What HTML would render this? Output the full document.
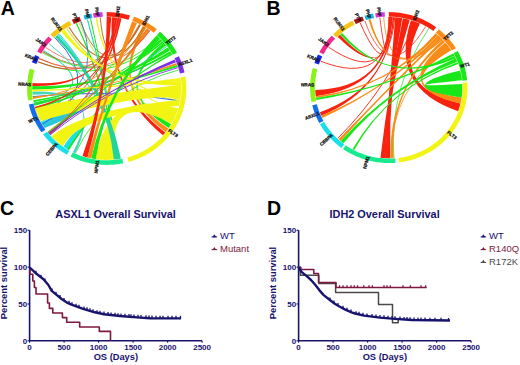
<!DOCTYPE html>
<html><head><meta charset="utf-8"><style>
html,body{margin:0;padding:0;background:#fff;width:520px;height:365px;overflow:hidden}
svg{display:block;font-family:"Liberation Sans",sans-serif}
</style></head><body>
<svg width="520" height="365" viewBox="0 0 520 365">
<rect width="520" height="365" fill="#fff"/>
<text x="0.8" y="14.6" font-size="19.5" font-weight="bold" fill="#000">A</text>
<text x="266.6" y="14.8" font-size="19.5" font-weight="bold" fill="#000">B</text>
<text x="0" y="214.8" font-size="19.5" font-weight="bold" fill="#000">C</text>
<text x="267.1" y="214.8" font-size="19.5" font-weight="bold" fill="#000">D</text>
<path d="M171.15,124.22 L169.99,126.09 L168.76,127.93 Q106.7,88.5 163.71,42.58 L164.95,44.03 L166.14,45.51 Q106.7,88.5 171.15,124.22Z" fill="#18e818"/>
<path d="M168.4,128.45 L167.1,130.24 L165.75,131.99 Q106.7,88.5 142.78,26.02 L144.47,26.95 L146.14,27.92 Q106.7,88.5 168.4,128.45Z" fill="#f98c16"/>
<path d="M165.35,132.48 L164.13,133.94 L162.87,135.36 Q106.7,88.5 111.89,17.24 L113.51,17.37 L115.13,17.53 Q106.7,88.5 165.35,132.48Z" fill="#f8220e"/>
<path d="M41.29,122.59 Q62,112 90,100 L90,107 Q65,120 44.64,127.93Z" fill="#2cc6dc"/>
<path d="M63.48,146.66 Q70,136 84,122 L84,128 Q74,141 68.93,150.05Z" fill="#18e0ea"/>
<path d="M54.63,37.46 Q106.7,88.5 42.25,124.22" fill="none" stroke="#2a6ae6" stroke-width="1.0" stroke-opacity="1"/>
<path d="M58.17,34.34 Q106.7,88.5 117.06,159.24" fill="none" stroke="#18e0ea" stroke-width="1.1" stroke-opacity="1"/>
<path d="M59.16,33.54 Q106.7,88.5 118.34,159.05" fill="none" stroke="#22d8b0" stroke-width="0.9" stroke-opacity="1"/>
<path d="M66.71,28.25 Q106.7,88.5 180,100.9" fill="none" stroke="#c6e83a" stroke-width="1.2" stroke-opacity="1"/>
<path d="M68.93,26.95 Q106.7,88.5 145.03,27.27" fill="none" stroke="#c0702a" stroke-width="1.2" stroke-opacity="1"/>
<path d="M43.58,50.65 Q106.7,88.5 33.9,103.35" fill="none" stroke="#22d8b0" stroke-width="1.1" stroke-opacity="1"/>
<path d="M45.73,47.53 Q106.7,88.5 118.34,17.95" fill="none" stroke="#e0604a" stroke-width="0.8" stroke-opacity="1"/>
<path d="M48.86,43.55 Q106.7,88.5 115.77,159.4" fill="none" stroke="#46d6c0" stroke-width="1.0" stroke-opacity="1"/>
<path d="M37.69,61.74 Q106.7,88.5 161.13,39.78" fill="none" stroke="#18e818" stroke-width="0.9" stroke-opacity="1"/>
<path d="M38.98,58.88 Q106.7,88.5 139.33,24.3" fill="none" stroke="#e8603a" stroke-width="0.7" stroke-opacity="1"/>
<path d="M76.43,23.24 Q106.7,88.5 117.06,159.24" fill="none" stroke="#18e818" stroke-width="1.2" stroke-opacity="1"/>
<path d="M78.82,22.27 Q106.7,88.5 173.59,119.81" fill="none" stroke="#c6e83a" stroke-width="0.9" stroke-opacity="1"/>
<path d="M80.39,21.68 Q106.7,88.5 140.49,24.85" fill="none" stroke="#c0702a" stroke-width="0.9" stroke-opacity="1"/>
<path d="M87.44,19.5 Q106.7,88.5 118.34,159.05" fill="none" stroke="#22d8b0" stroke-width="1.1" stroke-opacity="1"/>
<path d="M90.59,18.76 Q106.7,88.5 118.98,158.95" fill="none" stroke="#18e818" stroke-width="1.0" stroke-opacity="1"/>
<path d="M96.34,17.76 Q106.7,88.5 177.48,110.57" fill="none" stroke="#f2f514" stroke-width="1.0" stroke-opacity="1"/>
<path d="M100.21,17.34 Q106.7,88.5 143.91,26.64" fill="none" stroke="#c0702a" stroke-width="1.0" stroke-opacity="1"/>
<path d="M117.06,17.76 Q106.7,88.5 37.69,61.74" fill="none" stroke="#f8220e" stroke-width="0.8" stroke-opacity="1"/>
<path d="M118.34,17.95 Q106.7,88.5 38.71,117.55" fill="none" stroke="#f8220e" stroke-width="0.9" stroke-opacity="1"/>
<path d="M145.03,27.27 Q106.7,88.5 33,98.44" fill="none" stroke="#f98c16" stroke-width="0.9" stroke-opacity="1"/>
<path d="M158.4,37.11 Q106.7,88.5 42.25,52.78" fill="none" stroke="#18e818" stroke-width="0.8" stroke-opacity="1"/>
<path d="M166.91,46.51 Q106.7,88.5 40.99,122.04" fill="none" stroke="#22d8b0" stroke-width="0.9" stroke-opacity="1"/>
<path d="M178.59,70.01 Q106.7,88.5 75.25,153.24" fill="none" stroke="#18e818" stroke-width="0.8" stroke-opacity="1"/>
<path d="M32.75,96.59 Q106.7,88.5 180,100.9" fill="none" stroke="#2a6ae6" stroke-width="1.0" stroke-opacity="1"/>
<path d="M34.18,104.57 Q106.7,88.5 171.15,52.78" fill="none" stroke="#2a6ae6" stroke-width="0.9" stroke-opacity="1"/>
<path d="M36.76,112.93 Q106.7,88.5 81.24,21.37" fill="none" stroke="#146eeb" stroke-width="0.8" stroke-opacity="1"/>
<path d="M32.32,86.01 L32.39,84.45 L32.5,82.9 Q106.7,88.5 115.13,17.53 L117.06,17.76 Q106.7,88.5 32.32,86.01Z" fill="#f8220e"/>
<path d="M32.29,89.75 L32.28,87.88 L32.32,86.01 Q106.7,88.5 168.4,48.55 L169.12,49.59 L169.82,50.65 Q106.7,88.5 32.29,89.75Z" fill="#18e818"/>
<path d="M32.56,94.73 L32.43,93.17 L32.34,91.62 Q106.7,88.5 75.25,153.24 L74.07,152.7 L72.91,152.15 Q106.7,88.5 32.56,94.73Z" fill="#46d6c0"/>
<path d="M176.18,62.9 L176.99,65.01 Q106.7,88.5 33,98.44 L32.78,96.83 Q106.7,88.5 176.18,62.9Z" fill="#f98c16"/>
<path d="M176.99,65.01 L177.68,67.02 Q106.7,88.5 34.04,103.96 L33.77,102.74 Q106.7,88.5 176.99,65.01Z" fill="#18e818"/>
<path d="M167.67,47.53 L168.4,48.55 L169.12,49.59 Q106.7,88.5 35.53,109.39 L35.16,108.19 L34.81,106.99 Q106.7,88.5 167.67,47.53Z" fill="#18e818"/>
<path d="M171.48,53.32 L172.29,54.74 Q106.7,88.5 68.93,150.05 L67.26,149.08 Q106.7,88.5 171.48,53.32Z" fill="#18e818"/>
<path d="M160.69,39.33 L162.01,40.7 Q106.7,88.5 49.02,133.65 L48.05,132.48 Q106.7,88.5 160.69,39.33Z" fill="#18e818"/>
<path d="M162.44,41.17 L163.71,42.58 Q106.7,88.5 34.48,105.78 L34.12,104.33 Q106.7,88.5 162.44,41.17Z" fill="#18e818"/>
<path d="M170.16,51.18 L170.83,52.24 L171.48,53.32 Q106.7,88.5 33.64,102.13 L33.29,100.29 Q106.7,88.5 170.16,51.18Z" fill="#18e818"/>
<path d="M139.33,24.3 L140.72,24.97 Q106.7,88.5 42.57,52.24 L43.24,51.18 Q106.7,88.5 139.33,24.3Z" fill="#c0702a"/>
<path d="M147.24,28.59 L148.32,29.28 L149.39,29.98 Q106.7,88.5 48.21,132.68 L47.42,131.69 Q106.7,88.5 147.24,28.59Z" fill="#f98c16"/>
<path d="M149.39,29.98 L150.45,30.71 Q106.7,88.5 38.98,58.88 L39.41,57.97 Q106.7,88.5 149.39,29.98Z" fill="#e8603a"/>
<path d="M117.7,17.85 L119.62,18.15 Q106.7,88.5 35.23,108.43 L34.81,106.99 Q106.7,88.5 117.7,17.85Z" fill="#f8220e"/>
<path d="M119.62,18.15 L121.54,18.5 Q106.7,88.5 50.11,134.89 L49.27,133.94 Q106.7,88.5 119.62,18.15Z" fill="#f8220e"/>
<path d="M178.24,108.19 L177.51,110.49 L176.7,112.76 L175.81,115.01 L174.84,117.23 L173.8,119.41 L172.67,121.56 L171.48,123.68 Q106.7,88.5 114.48,159.54 L112.13,159.74 L109.78,159.87 L107.43,159.93 L105.08,159.92 L102.72,159.83 L100.38,159.68 L98.03,159.45 L95.7,159.15 Q106.7,88.5 178.24,108.19Z" fill="#f2f514"/>
<path d="M120.9,158.62 L118.56,159.02 L116.2,159.35 L113.83,159.61 Q106.7,88.5 55.19,36.94 L56.32,35.92 L57.48,34.92 Q106.7,88.5 120.9,158.62Z" fill="#20d49c"/>
<path d="M180.31,77.94 L180.53,79.49 L180.72,81.03 Q106.7,88.5 32.34,91.62 L32.29,89.75 Q106.7,88.5 180.31,77.94Z" fill="#f2f514"/>
<path d="M180.72,81.03 L180.92,83.21 L181.06,85.38 Q106.7,88.5 61.39,31.83 L62.95,30.71 L64.54,29.63 Q106.7,88.5 180.72,81.03Z" fill="#f2f514"/>
<path d="M180.57,97.21 L180.38,98.57 L180.17,99.92 Q106.7,88.5 95.7,17.85 L96.99,17.68 Q106.7,88.5 180.57,97.21Z" fill="#f2f514"/>
<path d="M181.02,84.76 L181.11,86.84 L181.12,88.92 L181.08,90.99 L180.97,93.07 L180.8,95.14 L180.57,97.21 Q134.2,94.5 40.39,120.93 L39.34,118.88 L38.36,116.79 L37.45,114.68 L36.62,112.54 L35.85,110.38 L35.16,108.19 Q76.6,97.1 181.02,84.76Z" fill="#f2f514"/>
<path d="M180.21,99.67 L179.84,101.72 L179.41,103.76 L178.92,105.78 Q78.3,114.8 62.95,146.29 L61.17,145.01 L59.43,143.68 L57.73,142.29 L56.08,140.86 L54.47,139.39 L52.91,137.87 L51.39,136.3 Q83.9,109.2 180.21,99.67Z" fill="#f2f514"/>
<path d="M119.62,18.15 Q106.7,88.5 48.86,133.45" fill="none" stroke="#e04030" stroke-width="0.8" stroke-opacity="1"/>
<path d="M147.24,28.59 Q106.7,88.5 48.45,132.97" fill="none" stroke="#c0702a" stroke-width="0.9" stroke-opacity="1"/>
<path d="M162.01,40.7 Q106.7,88.5 48.05,132.48" fill="none" stroke="#18e818" stroke-width="0.9" stroke-opacity="1"/>
<path d="M177.87,67.61 Q106.7,88.5 50.11,134.89" fill="none" stroke="#7a30e6" stroke-width="0.9" stroke-opacity="1"/>
<path d="M95.7,159.15 L93.46,158.79 L91.23,158.37 Q106.7,88.5 156.5,35.41 L157.77,36.54 L159.02,37.7 L160.24,38.88 Q106.7,88.5 95.7,159.15Z" fill="#18e818"/>
<path d="M91.23,158.37 L89.33,157.96 L87.44,157.5 Q106.7,88.5 132.16,21.37 L133.78,21.96 L135.38,22.58 L136.97,23.24 Q106.7,88.5 91.23,158.37Z" fill="#f98c16"/>
<path d="M87.44,157.5 L85.77,157.05 L84.11,156.57 L82.47,156.04 Q106.7,88.5 106.7,17.07 L108.97,17.1 L111.24,17.2 Q106.7,88.5 87.44,157.5Z" fill="#f8220e"/>
<path d="M174.69,59.45 L175.34,60.88 L175.95,62.32 Q106.7,88.5 49.27,133.94 L48.45,132.97 Q106.7,88.5 174.69,59.45Z" fill="#7a30e6"/>
<path d="M106.7,12.1 L109.32,12.14 L111.94,12.27 L114.56,12.47 L117.17,12.76 L119.76,13.14 L122.34,13.59 L124.91,14.13 L127.45,14.74 L129.97,15.44 L128.58,19.82 L126.21,19.17 L123.81,18.59 L121.4,18.08 L118.98,17.66 L116.54,17.31 L114.09,17.03 L111.63,16.84 L109.17,16.72 L106.7,16.68Z" fill="#f8220e"/>
<path d="M133.92,16.71 L136.39,17.61 L138.82,18.6 L141.22,19.66 L143.58,20.79 L145.9,22 L148.17,23.29 L150.4,24.64 L152.58,26.07 L154.72,27.56 L156.79,29.13 L153.79,32.69 L151.83,31.22 L149.83,29.82 L147.78,28.48 L145.68,27.2 L143.55,25.99 L141.37,24.86 L139.15,23.79 L136.89,22.79 L134.61,21.87 L132.29,21.02Z" fill="#f98c16"/>
<path d="M159.96,31.72 L161.81,33.37 L163.61,35.08 L165.34,36.84 L167.02,38.65 L168.64,40.51 L170.2,42.42 L171.69,44.38 L173.11,46.38 L174.47,48.43 L175.76,50.51 L176.98,52.63 L172.77,54.78 L171.62,52.79 L170.4,50.83 L169.13,48.91 L167.79,47.03 L166.39,45.19 L164.92,43.39 L163.4,41.64 L161.83,39.94 L160.19,38.29 L158.51,36.68 L156.77,35.13Z" fill="#18e818"/>
<path d="M178.84,56.21 L179.89,58.47 L180.87,60.77 L181.77,63.09 L182.59,65.44 L183.32,67.81 L183.98,70.2 L184.56,72.62 L179.89,73.57 L179.35,71.3 L178.73,69.05 L178.03,66.82 L177.26,64.61 L176.42,62.43 L175.5,60.27 L174.51,58.15Z" fill="#7a30e6"/>
<path d="M185.32,76.55 L185.7,79.16 L185.99,81.78 L186.19,84.41 L186.29,87.04 L186.29,89.67 L186.2,92.31 L186.02,94.94 L185.74,97.56 L185.37,100.17 L184.9,102.77 L184.34,105.35 L183.69,107.91 L182.95,110.44 L182.11,112.95 L181.19,115.43 L180.18,117.88 L179.08,120.3 L177.89,122.67 L176.62,125.01 L175.27,127.3 L173.83,129.55 L172.32,131.75 L170.73,133.89 L169.06,135.99 L167.31,138.02 L165.5,140 L163.61,141.91 L161.66,143.77 L159.64,145.55 L157.56,147.27 L155.42,148.92 L153.22,150.49 L150.96,152 L148.66,153.43 L146.3,154.78 L143.89,156.05 L141.45,157.24 L138.96,158.35 L136.43,159.37 L133.86,160.31 L131.27,161.17 L128.64,161.94 L127.32,157.53 L129.79,156.81 L132.23,156.01 L134.64,155.12 L137.02,154.16 L139.36,153.11 L141.66,151.99 L143.92,150.8 L146.14,149.53 L148.31,148.19 L150.43,146.78 L152.5,145.29 L154.51,143.74 L156.47,142.13 L158.36,140.45 L160.2,138.71 L161.97,136.91 L163.68,135.05 L165.32,133.14 L166.88,131.17 L168.38,129.15 L169.81,127.09 L171.15,124.98 L172.43,122.82 L173.62,120.62 L174.74,118.39 L175.77,116.12 L176.72,113.82 L177.59,111.49 L178.37,109.13 L179.07,106.74 L179.68,104.34 L180.21,101.91 L180.65,99.47 L181,97.02 L181.26,94.55 L181.43,92.08 L181.52,89.6 L181.51,87.13 L181.42,84.65 L181.23,82.18 L180.96,79.72 L180.6,77.27Z" fill="#f2f514"/>
<path d="M123.25,163.23 L120.59,163.73 L117.92,164.14 L115.23,164.46 L112.53,164.69 L109.83,164.84 L107.12,164.9 L104.41,164.87 L101.7,164.75 L99,164.54 L96.31,164.25 L93.63,163.86 L90.97,163.39 L88.32,162.84 L85.7,162.19 L83.1,161.46 L80.52,160.65 L77.98,159.75 L75.47,158.77 L73,157.71 L70.56,156.57 L72.73,152.49 L75.02,153.56 L77.34,154.56 L79.7,155.48 L82.09,156.32 L84.51,157.09 L86.96,157.77 L89.42,158.38 L91.91,158.9 L94.41,159.34 L96.93,159.7 L99.46,159.98 L102,160.17 L104.55,160.29 L107.09,160.32 L109.64,160.26 L112.18,160.12 L114.72,159.9 L117.24,159.6 L119.76,159.21 L122.26,158.75Z" fill="#18ea8e"/>
<path d="M66.9,154.66 L64.62,153.35 L62.38,151.96 L60.19,150.5 L58.06,148.98 L55.98,147.38 L53.96,145.72 L51.99,144 L50.09,142.21 L48.25,140.36 L46.47,138.45 L44.77,136.49 L43.13,134.48 L46.94,131.72 L48.48,133.61 L50.09,135.46 L51.76,137.25 L53.48,138.99 L55.27,140.67 L57.12,142.29 L59.02,143.85 L60.98,145.35 L62.98,146.78 L65.04,148.15 L67.14,149.46 L69.29,150.69Z" fill="#18e0ea"/>
<path d="M41.5,132.32 L40,130.2 L38.59,128.04 L37.25,125.83 L35.99,123.58 L34.8,121.29 L33.7,118.96 L32.68,116.6 L31.74,114.21 L30.89,111.79 L30.12,109.34 L29.44,106.87 L28.84,104.38 L33.51,103.43 L34.07,105.77 L34.71,108.09 L35.44,110.39 L36.24,112.67 L37.12,114.92 L38.08,117.14 L39.12,119.32 L40.23,121.48 L41.42,123.59 L42.68,125.67 L44.01,127.7 L45.41,129.69Z" fill="#146eeb"/>
<path d="M28.08,100.45 L27.72,98.01 L27.44,95.57 L27.25,93.11 L27.13,90.65 L27.1,88.19 L27.15,85.73 L27.29,83.27 L27.5,80.82 L27.8,78.38 L28.18,75.94 L28.65,73.52 L29.19,71.11 L29.81,68.73 L34.43,69.91 L33.84,72.16 L33.33,74.42 L32.89,76.69 L32.54,78.98 L32.25,81.28 L32.05,83.59 L31.93,85.9 L31.88,88.21 L31.91,90.52 L32.01,92.84 L32.2,95.14 L32.46,97.44 L32.8,99.73Z" fill="#86f414"/>
<path d="M31.9,62.37 L32.64,60.5 L33.43,58.65 L34.27,56.82 L35.16,55.01 L39.45,57.02 L38.61,58.72 L37.82,60.44 L37.08,62.18 L36.39,63.94Z" fill="#1428e6"/>
<path d="M37.08,51.46 L38.29,49.44 L39.57,47.45 L40.9,45.5 L42.3,43.59 L43.76,41.73 L45.28,39.9 L46.85,38.13 L48.48,36.4 L51.98,39.52 L50.44,41.15 L48.96,42.82 L47.54,44.53 L46.17,46.29 L44.85,48.08 L43.59,49.91 L42.4,51.78 L41.26,53.68Z" fill="#f5288c"/>
<path d="M50.41,34.48 L52.3,32.73 L54.25,31.04 L56.25,29.41 L58.3,27.84 L60.41,26.34 L62.57,24.91 L64.78,23.55 L67.03,22.26 L69.33,21.04 L71.57,25.09 L69.41,26.24 L67.3,27.45 L65.22,28.73 L63.19,30.07 L61.21,31.48 L59.27,32.95 L57.39,34.48 L55.56,36.07 L53.79,37.72Z" fill="#f6c414"/>
<path d="M71.81,19.83 L73.69,18.98 L75.6,18.17 L77.53,17.42 L79.48,16.71 L81.11,21.02 L79.28,21.68 L77.46,22.39 L75.67,23.15 L73.9,23.95Z" fill="#b01414"/>
<path d="M83.43,15.44 L85.43,14.88 L87.44,14.37 L89.47,13.91 L91.51,13.5 L92.42,18 L90.51,18.39 L88.6,18.82 L86.7,19.3 L84.82,19.82Z" fill="#20b4e0"/>
<path d="M92.88,13.26 L95.28,12.89 L97.69,12.59 L100.11,12.36 L102.53,12.2 L102.78,16.78 L100.5,16.93 L98.23,17.15 L95.96,17.43 L93.71,17.78Z" fill="#d43ce0"/>
<text x="117.22" y="16.63" transform="rotate(-82 117.22 16.63)" font-size="4.6" text-anchor="start" dominant-baseline="central" fill="#111" stroke="#111" stroke-width="0.25" font-weight="bold">IDH2</text>
<text x="143.36" y="25.02" transform="rotate(-61 143.36 25.02)" font-size="4.6" text-anchor="start" dominant-baseline="central" fill="#111" stroke="#111" stroke-width="0.25" font-weight="bold">IDH1</text>
<text x="166.29" y="43.82" transform="rotate(-38 166.29 43.82)" font-size="4.6" text-anchor="start" dominant-baseline="central" fill="#111" stroke="#111" stroke-width="0.25" font-weight="bold">TET2</text>
<text x="178.2" y="64.87" transform="rotate(-19 178.2 64.87)" font-size="4.6" text-anchor="start" dominant-baseline="central" fill="#111" stroke="#111" stroke-width="0.25" font-weight="bold">ASXL1</text>
<text x="168.64" y="130.13" transform="rotate(35 168.64 130.13)" font-size="4.6" text-anchor="start" dominant-baseline="central" fill="#111" stroke="#111" stroke-width="0.25" font-weight="bold">FLT3</text>
<text x="97.48" y="160.54" transform="rotate(277 97.48 160.54)" font-size="4.6" text-anchor="end" dominant-baseline="central" fill="#111" stroke="#111" stroke-width="0.25" font-weight="bold">NPM1</text>
<text x="57.09" y="143.28" transform="rotate(311 57.09 143.28)" font-size="4.6" text-anchor="end" dominant-baseline="central" fill="#111" stroke="#111" stroke-width="0.25" font-weight="bold">CEBPA</text>
<text x="37.62" y="118.02" transform="rotate(336 37.62 118.02)" font-size="4.6" text-anchor="end" dominant-baseline="central" fill="#111" stroke="#111" stroke-width="0.25" font-weight="bold">WT1</text>
<text x="31.18" y="84.7" transform="rotate(363 31.18 84.7)" font-size="4.6" text-anchor="end" dominant-baseline="central" fill="#111" stroke="#111" stroke-width="0.25" font-weight="bold">NRAS</text>
<text x="37.09" y="60.14" transform="rotate(383 37.09 60.14)" font-size="4.6" text-anchor="end" dominant-baseline="central" fill="#111" stroke="#111" stroke-width="0.25" font-weight="bold">KRAS</text>
<text x="45.52" y="45.84" transform="rotate(396 45.52 45.84)" font-size="4.6" text-anchor="end" dominant-baseline="central" fill="#111" stroke="#111" stroke-width="0.25" font-weight="bold">JAK2</text>
<text x="61.19" y="30.54" transform="rotate(413 61.19 30.54)" font-size="4.6" text-anchor="end" dominant-baseline="central" fill="#111" stroke="#111" stroke-width="0.25" font-weight="bold">RUNX1</text>
<text x="77.15" y="21.69" transform="rotate(427 77.15 21.69)" font-size="4.6" text-anchor="end" dominant-baseline="central" fill="#111" stroke="#111" stroke-width="0.25" font-weight="bold">PTP</text>
<text x="88.41" y="18.08" transform="rotate(436 88.41 18.08)" font-size="4.6" text-anchor="end" dominant-baseline="central" fill="#111" stroke="#111" stroke-width="0.25" font-weight="bold">PHF</text>
<text x="97.48" y="16.46" transform="rotate(443 97.48 16.46)" font-size="4.6" text-anchor="end" dominant-baseline="central" fill="#111" stroke="#111" stroke-width="0.25" font-weight="bold">PHF</text>
<path d="M388.99,17.01 Q388.8,87.6 320.57,61.16" fill="none" stroke="#f8220e" stroke-width="0.9" stroke-opacity="1"/>
<path d="M389.19,17.01 Q388.8,87.6 328.52,47.11" fill="none" stroke="#f8220e" stroke-width="0.9" stroke-opacity="1"/>
<path d="M389.38,17.01 Q388.8,87.6 360.05,22.62" fill="none" stroke="#f8220e" stroke-width="0.9" stroke-opacity="1"/>
<path d="M389.51,17.01 Q388.8,87.6 379.83,17.53" fill="none" stroke="#f8220e" stroke-width="0.8" stroke-opacity="1"/>
<path d="M369.75,19.41 Q388.8,87.6 439.92,36.82" fill="none" stroke="#f98c16" stroke-width="0.9" stroke-opacity="1"/>
<path d="M383.67,17.18 Q388.8,87.6 441.28,38.12" fill="none" stroke="#f98c16" stroke-width="0.8" stroke-opacity="1"/>
<path d="M364.84,20.85 Q388.8,87.6 425.59,26.47" fill="none" stroke="#f8220e" stroke-width="0.7" stroke-opacity="1"/>
<path d="M414.93,21.61 Q388.8,87.6 337.68,138.38" fill="none" stroke="#f8220e" stroke-width="0.9" stroke-opacity="1"/>
<path d="M428.88,28.4 Q388.8,87.6 393.93,158.02" fill="none" stroke="#18e818" stroke-width="0.7" stroke-opacity="1"/>
<path d="M439.92,36.82 Q388.8,87.6 339.09,139.65" fill="none" stroke="#f98c16" stroke-width="0.9" stroke-opacity="1"/>
<path d="M450.51,49.15 Q388.8,87.6 392.01,158.13" fill="none" stroke="#f98c16" stroke-width="0.8" stroke-opacity="1"/>
<path d="M395.21,17.28 L397.56,17.51 L399.89,17.81 L402.21,18.19 Q388.8,87.6 390.08,158.18 L387.64,158.18 L385.21,158.11 Q388.8,87.6 395.21,17.28Z" fill="#f8220e"/>
<path d="M402.84,18.3 L405.14,18.77 L407.43,19.31 L409.7,19.91 Q388.8,87.6 385.59,158.13 L383.88,158.03 L382.17,157.91 L380.47,157.74 Q388.8,87.6 402.84,18.3Z" fill="#f8220e"/>
<path d="M389.57,17.01 L391.11,17.04 L392.65,17.1 Q388.8,87.6 315.76,96.2 L315.53,94.16 L315.37,92.11 L315.26,90.06 Q388.8,87.6 389.57,17.01Z" fill="#f8220e"/>
<path d="M392.65,17.1 L394.19,17.2 Q388.8,87.6 321.32,115.75 L320.57,114.04 L319.88,112.32 Q388.8,87.6 392.65,17.1Z" fill="#f8220e"/>
<path d="M394.19,17.2 L395.21,17.28 Q388.8,87.6 337.68,36.82 L338.85,35.76 L340.04,34.73 Q388.8,87.6 394.19,17.2Z" fill="#f8220e"/>
<path d="M410.93,20.27 L413.21,21.01 L415.47,21.81 L417.7,22.68 L419.9,23.62 Q388.8,87.6 460.5,103.48 L460,105.42 L459.44,107.35 L458.83,109.27 L458.16,111.16 Q388.8,87.6 410.93,20.27Z" fill="#f8220e"/>
<path d="M435.7,33.21 L436.88,34.16 L438.04,35.14 Q388.8,87.6 316.02,98.03 L315.76,96.2 Q388.8,87.6 435.7,33.21Z" fill="#f98c16"/>
<path d="M438.04,35.14 L439.13,36.1 L440.19,37.08 Q388.8,87.6 322.38,117.99 L321.84,116.87 L321.32,115.75 Q388.8,87.6 438.04,35.14Z" fill="#f98c16"/>
<path d="M440.19,37.08 L441.73,38.56 Q388.8,87.6 340.52,140.88 L339.56,140.06 L338.62,139.23 Q388.8,87.6 440.19,37.08Z" fill="#f98c16"/>
<path d="M441.73,38.56 L442.79,39.64 Q388.8,87.6 368.52,19.74 L370.38,19.26 Q388.8,87.6 441.73,38.56Z" fill="#f98c16"/>
<path d="M442.97,39.82 L444,40.92 L445,42.04 Q388.8,87.6 393.68,158.04 L392.01,158.13 L390.34,158.18 Q388.8,87.6 442.97,39.82Z" fill="#f98c16"/>
<path d="M445.33,42.41 L446.9,44.28 L448.41,46.21 L449.84,48.18 L451.2,50.19 Q388.8,87.6 461.67,97.42 L461.34,99.45 L460.95,101.47 L460.5,103.48 Q388.8,87.6 445.33,42.41Z" fill="#f98c16"/>
<path d="M453.28,53.59 L453.89,54.68 L454.48,55.77 Q388.8,87.6 316.38,100.1 L316.02,98.03 Q388.8,87.6 453.28,53.59Z" fill="#18e818"/>
<path d="M454.65,56.1 L455.22,57.21 L455.76,58.33 Q388.8,87.6 340.23,34.57 L341.21,33.76 L342.19,32.97 Q388.8,87.6 454.65,56.1Z" fill="#18e818"/>
<path d="M455.76,58.33 L456.53,60.02 L457.26,61.73 Q388.8,87.6 343.5,143.23 L342.09,142.15 L340.72,141.04 Q388.8,87.6 455.76,58.33Z" fill="#18e818"/>
<path d="M460.2,70.52 L460.67,72.44 L461.08,74.37 L461.44,76.31 L461.74,78.26 L461.98,80.22 Q388.8,87.6 462.28,83.91 L462.37,86.16 L462.38,88.42 L462.31,90.68 L462.17,92.93 L461.96,95.18 L461.67,97.42 Q388.8,87.6 460.2,70.52Z" fill="#18e818"/>
<path d="M457.5,62.3 L458.16,64.04 Q388.8,87.6 354.25,149.93 L352.57,149.04 Q388.8,87.6 457.5,62.3Z" fill="#18e818"/>
<path d="M388.8,12.1 L391.47,12.14 L394.15,12.27 L396.81,12.49 L399.47,12.8 L402.11,13.19 L404.74,13.66 L407.35,14.23 L409.94,14.87 L412.5,15.6 L415.04,16.42 L417.54,17.32 L420.02,18.29 L422.45,19.35 L424.85,20.49 L427.21,21.7 L429.52,22.99 L431.78,24.36 L434,25.79 L436.16,27.3 L433.32,30.92 L431.29,29.5 L429.21,28.15 L427.08,26.87 L424.9,25.66 L422.69,24.51 L420.43,23.45 L418.14,22.45 L415.82,21.53 L413.46,20.69 L411.08,19.92 L408.67,19.24 L406.23,18.63 L403.78,18.1 L401.31,17.65 L398.83,17.28 L396.33,17 L393.82,16.79 L391.31,16.67 L388.8,16.63Z" fill="#f8220e"/>
<path d="M438.86,29.34 L440.85,30.97 L442.77,32.65 L444.64,34.4 L446.45,36.21 L448.2,38.07 L449.87,39.98 L451.49,41.95 L453.03,43.97 L454.5,46.04 L455.9,48.15 L451.88,50.52 L450.56,48.53 L449.18,46.59 L447.73,44.69 L446.21,42.84 L444.63,41.04 L442.99,39.29 L441.29,37.59 L439.54,35.95 L437.72,34.36 L435.86,32.84Z" fill="#f98c16"/>
<path d="M457.63,51 L458.89,53.27 L460.07,55.57 L461.16,57.92 L462.17,60.3 L463.1,62.71 L463.94,65.15 L464.69,67.61 L465.36,70.1 L465.93,72.61 L466.42,75.14 L466.82,77.68 L467.12,80.23 L462.42,80.67 L462.14,78.28 L461.76,75.89 L461.31,73.51 L460.76,71.15 L460.14,68.81 L459.43,66.5 L458.64,64.2 L457.77,61.94 L456.82,59.7 L455.79,57.49 L454.69,55.33 L453.5,53.19Z" fill="#18e818"/>
<path d="M467.31,82.33 L467.45,84.92 L467.5,87.52 L467.46,90.11 L467.32,92.7 L467.09,95.28 L466.77,97.86 L466.36,100.42 L465.85,102.97 L465.26,105.5 L464.57,108.01 L463.8,110.49 L462.93,112.95 L461.98,115.38 L460.94,117.77 L459.82,120.13 L458.61,122.45 L457.32,124.73 L455.95,126.97 L454.51,129.16 L452.98,131.3 L451.38,133.39 L449.7,135.42 L447.95,137.4 L446.14,139.32 L444.25,141.18 L442.3,142.97 L440.29,144.7 L438.21,146.36 L436.08,147.96 L433.89,149.48 L431.65,150.93 L429.35,152.3 L427.01,153.6 L424.63,154.82 L422.2,155.96 L419.73,157.02 L417.23,158 L414.69,158.9 L412.13,159.71 L409.53,160.43 L406.91,161.07 L404.27,161.63 L401.61,162.09 L398.94,162.47 L398.33,157.98 L400.84,157.62 L403.34,157.19 L405.82,156.67 L408.29,156.06 L410.73,155.38 L413.14,154.62 L415.52,153.78 L417.88,152.86 L420.2,151.86 L422.48,150.79 L424.72,149.64 L426.92,148.42 L429.08,147.13 L431.18,145.77 L433.24,144.34 L435.25,142.84 L437.2,141.28 L439.09,139.65 L440.92,137.96 L442.7,136.22 L444.4,134.41 L446.05,132.55 L447.62,130.64 L449.13,128.67 L450.56,126.66 L451.93,124.6 L453.21,122.5 L454.42,120.36 L455.56,118.18 L456.61,115.96 L457.59,113.71 L458.48,111.43 L459.3,109.12 L460.02,106.78 L460.67,104.42 L461.23,102.05 L461.7,99.65 L462.09,97.24 L462.39,94.82 L462.61,92.39 L462.74,89.96 L462.78,87.52 L462.73,85.08 L462.6,82.65Z" fill="#f2f514"/>
<path d="M395.66,162.81 L393.01,162.99 L390.36,163.09 L387.7,163.09 L385.05,163.01 L382.4,162.85 L379.75,162.6 L377.12,162.26 L374.5,161.84 L371.9,161.34 L369.32,160.75 L366.76,160.08 L364.22,159.32 L361.71,158.49 L359.23,157.57 L356.79,156.57 L354.38,155.5 L352.01,154.34 L349.69,153.12 L347.41,151.81 L345.17,150.44 L342.99,148.99 L345.74,145.31 L347.79,146.67 L349.89,147.96 L352.03,149.19 L354.22,150.34 L356.45,151.42 L358.71,152.43 L361.01,153.37 L363.34,154.23 L365.69,155.02 L368.08,155.73 L370.49,156.36 L372.91,156.91 L375.36,157.39 L377.82,157.78 L380.3,158.1 L382.78,158.33 L385.27,158.49 L387.77,158.56 L390.26,158.56 L392.76,158.47 L395.25,158.3Z" fill="#18ea8e"/>
<path d="M341.44,147.9 L339.44,146.4 L337.49,144.85 L335.59,143.23 L333.75,141.56 L331.97,139.83 L330.24,138.04 L328.58,136.21 L326.98,134.32 L325.44,132.39 L323.97,130.41 L322.57,128.38 L321.23,126.31 L319.97,124.2 L324.1,122.01 L325.29,123.99 L326.54,125.93 L327.86,127.84 L329.24,129.7 L330.69,131.52 L332.19,133.29 L333.76,135.02 L335.38,136.69 L337.05,138.32 L338.78,139.89 L340.57,141.41 L342.4,142.87 L344.28,144.28Z" fill="#18e0ea"/>
<path d="M319.31,123.05 L318.19,120.93 L317.13,118.79 L316.14,116.61 L315.23,114.41 L314.39,112.18 L313.62,109.93 L312.93,107.65 L312.31,105.35 L316.9,104.29 L317.48,106.45 L318.13,108.59 L318.85,110.71 L319.64,112.8 L320.5,114.87 L321.43,116.92 L322.42,118.93 L323.48,120.92Z" fill="#146eeb"/>
<path d="M311.55,102.01 L311.1,99.6 L310.74,97.17 L310.45,94.74 L310.25,92.3 L310.14,89.86 L310.1,87.41 L310.15,84.97 L310.28,82.52 L310.49,80.08 L310.79,77.65 L311.16,75.23 L311.62,72.82 L312.16,70.43 L312.78,68.06 L317.34,69.23 L316.76,71.46 L316.25,73.71 L315.82,75.97 L315.47,78.25 L315.19,80.53 L314.99,82.83 L314.87,85.12 L314.82,87.42 L314.86,89.72 L314.97,92.02 L315.15,94.31 L315.42,96.6 L315.76,98.88 L316.18,101.14Z" fill="#86f414"/>
<path d="M314.39,63.02 L315.2,60.85 L316.09,58.71 L317.04,56.59 L318.06,54.5 L322.31,56.49 L321.35,58.45 L320.45,60.44 L319.62,62.46 L318.85,64.49Z" fill="#1428e6"/>
<path d="M319.31,52.15 L320.6,49.92 L321.97,47.73 L323.41,45.59 L324.93,43.49 L326.52,41.44 L328.18,39.45 L329.91,37.51 L331.71,35.63 L335.14,38.75 L333.45,40.52 L331.82,42.34 L330.26,44.21 L328.76,46.14 L327.33,48.11 L325.98,50.12 L324.69,52.18 L323.48,54.28Z" fill="#f5288c"/>
<path d="M333.15,34.21 L335.07,32.43 L337.05,30.72 L339.09,29.06 L341.19,27.48 L343.35,25.96 L345.55,24.52 L347.81,23.15 L350.11,21.85 L352.46,20.63 L354.64,24.65 L352.43,25.8 L350.27,27.02 L348.15,28.31 L346.07,29.66 L344.05,31.09 L342.08,32.58 L340.16,34.13 L338.29,35.74 L336.49,37.42Z" fill="#f6c414"/>
<path d="M353.68,20.03 L355.82,19.05 L357.99,18.13 L360.18,17.27 L362.4,16.47 L363.98,20.74 L361.9,21.49 L359.84,22.3 L357.8,23.16 L355.79,24.09Z" fill="#b01414"/>
<path d="M364.48,15.8 L366.61,15.16 L368.76,14.59 L370.93,14.07 L373.11,13.62 L374.05,18.05 L372,18.48 L369.97,18.97 L367.94,19.51 L365.94,20.1Z" fill="#20b4e0"/>
<path d="M375.13,13.25 L377.51,12.88 L379.89,12.59 L382.28,12.36 L384.68,12.2 L384.93,16.73 L382.67,16.87 L380.43,17.09 L378.18,17.36 L375.95,17.71Z" fill="#d43ce0"/>
<text x="414.37" y="20.2" transform="rotate(-70 414.37 20.2)" font-size="4.6" text-anchor="start" dominant-baseline="central" fill="#111" stroke="#111" stroke-width="0.25" font-weight="bold">IDH2</text>
<text x="444.36" y="39.61" transform="rotate(-42 444.36 39.61)" font-size="4.6" text-anchor="start" dominant-baseline="central" fill="#111" stroke="#111" stroke-width="0.25" font-weight="bold">TET2</text>
<text x="460.3" y="66.63" transform="rotate(-17 460.3 66.63)" font-size="4.6" text-anchor="start" dominant-baseline="central" fill="#111" stroke="#111" stroke-width="0.25" font-weight="bold">WT1</text>
<text x="447.72" y="131.76" transform="rotate(38 447.72 131.76)" font-size="4.6" text-anchor="start" dominant-baseline="central" fill="#111" stroke="#111" stroke-width="0.25" font-weight="bold">FLT3</text>
<text x="368.19" y="156.55" transform="rotate(286 368.19 156.55)" font-size="4.6" text-anchor="end" dominant-baseline="central" fill="#111" stroke="#111" stroke-width="0.25" font-weight="bold">NPM1</text>
<text x="332.37" y="134.66" transform="rotate(319 332.37 134.66)" font-size="4.6" text-anchor="end" dominant-baseline="central" fill="#111" stroke="#111" stroke-width="0.25" font-weight="bold">CEBPA</text>
<text x="319" y="113.3" transform="rotate(339 319 113.3)" font-size="4.6" text-anchor="end" dominant-baseline="central" fill="#111" stroke="#111" stroke-width="0.25" font-weight="bold">ASXL1</text>
<text x="314.08" y="85.1" transform="rotate(362 314.08 85.1)" font-size="4.6" text-anchor="end" dominant-baseline="central" fill="#111" stroke="#111" stroke-width="0.25" font-weight="bold">NRAS</text>
<text x="319.48" y="60.73" transform="rotate(382 319.48 60.73)" font-size="4.6" text-anchor="end" dominant-baseline="central" fill="#111" stroke="#111" stroke-width="0.25" font-weight="bold">KRAS</text>
<text x="328.31" y="45.44" transform="rotate(396 328.31 45.44)" font-size="4.6" text-anchor="end" dominant-baseline="central" fill="#111" stroke="#111" stroke-width="0.25" font-weight="bold">JAK2</text>
<text x="343.81" y="30.32" transform="rotate(413 343.81 30.32)" font-size="4.6" text-anchor="end" dominant-baseline="central" fill="#111" stroke="#111" stroke-width="0.25" font-weight="bold">RUNX1</text>
<text x="359.59" y="21.58" transform="rotate(427 359.59 21.58)" font-size="4.6" text-anchor="end" dominant-baseline="central" fill="#111" stroke="#111" stroke-width="0.25" font-weight="bold">PTP</text>
<text x="369.45" y="18.32" transform="rotate(435 369.45 18.32)" font-size="4.6" text-anchor="end" dominant-baseline="central" fill="#111" stroke="#111" stroke-width="0.25" font-weight="bold">PHF</text>
<text x="379.69" y="16.41" transform="rotate(443 379.69 16.41)" font-size="4.6" text-anchor="end" dominant-baseline="central" fill="#111" stroke="#111" stroke-width="0.25" font-weight="bold">PHF</text>
<text x="115.6" y="218.2" font-size="10.9" font-weight="bold" fill="#18136e" text-anchor="middle">ASXL1 Overall Survival</text>
<path d="M29.6,230.3 V340.8 H202.1" fill="none" stroke="#18136e" stroke-width="1.6"/>
<path d="M27.6,340.8 H29.6" stroke="#18136e" stroke-width="1.1"/>
<text x="27.1" y="343.6" font-size="8" font-weight="bold" fill="#18136e" text-anchor="end">0</text>
<path d="M27.6,303.97 H29.6" stroke="#18136e" stroke-width="1.1"/>
<text x="27.1" y="306.77" font-size="8" font-weight="bold" fill="#18136e" text-anchor="end">50</text>
<path d="M27.6,267.13 H29.6" stroke="#18136e" stroke-width="1.1"/>
<text x="27.1" y="269.93" font-size="8" font-weight="bold" fill="#18136e" text-anchor="end">100</text>
<path d="M27.6,230.3 H29.6" stroke="#18136e" stroke-width="1.1"/>
<text x="27.1" y="233.1" font-size="8" font-weight="bold" fill="#18136e" text-anchor="end">150</text>
<path d="M29.6,340.8 V342.8" stroke="#18136e" stroke-width="1.1"/>
<text x="29.6" y="350.3" font-size="8" font-weight="bold" fill="#18136e" text-anchor="middle">0</text>
<path d="M64.1,340.8 V342.8" stroke="#18136e" stroke-width="1.1"/>
<text x="64.1" y="350.3" font-size="8" font-weight="bold" fill="#18136e" text-anchor="middle">500</text>
<path d="M98.6,340.8 V342.8" stroke="#18136e" stroke-width="1.1"/>
<text x="98.6" y="350.3" font-size="8" font-weight="bold" fill="#18136e" text-anchor="middle">1000</text>
<path d="M133.1,340.8 V342.8" stroke="#18136e" stroke-width="1.1"/>
<text x="133.1" y="350.3" font-size="8" font-weight="bold" fill="#18136e" text-anchor="middle">1500</text>
<path d="M167.6,340.8 V342.8" stroke="#18136e" stroke-width="1.1"/>
<text x="167.6" y="350.3" font-size="8" font-weight="bold" fill="#18136e" text-anchor="middle">2000</text>
<path d="M202.1,340.8 V342.8" stroke="#18136e" stroke-width="1.1"/>
<text x="202.1" y="350.3" font-size="8" font-weight="bold" fill="#18136e" text-anchor="middle">2500</text>
<text x="115.85" y="359.8" font-size="9.3" font-weight="bold" fill="#18136e" text-anchor="middle">OS (Days)</text>
<text transform="translate(7.2,283) rotate(-90)" font-size="9.4" font-weight="bold" fill="#18136e" text-anchor="middle">Percent survival</text>
<path d="M30,267.5 L30,274.3 L32.8,274.3 L32.8,281 L34.4,281 L34.4,287.5 L36,287.5 L36,294 L47.6,294 L47.6,303 L49.4,303 L49.4,308.4 L52.8,308.4 L52.8,313 L62.4,313 L62.4,317.6 L66.7,317.6 L66.7,322.3 L79.7,322.3 L79.7,327 L99.3,327 L99.3,331.4 L110.5,331.4 L110.5,340.8" fill="none" stroke="#7e1840" stroke-width="1.6" stroke-linejoin="round"/>
<path d="M29.7,267.5 L35.2,272.7 L43.5,279.3 L48.4,285 L51.7,290.8 L56.6,294.9 L61.6,299 L66.5,302.3 L71.5,304.6 L83.1,308.8 L94.8,312.3 L104,314.2 L120,316 L140,317.6 L150,318.2 L181,318.4" fill="none" stroke="#18136e" stroke-width="2.4" stroke-linejoin="round"/>
<path d="M36,273.34 v-2.6 M41,277.31 v-2.6 M45,281.04 v-2.6 M52,291.05 v-2.6 M56,294.4 v-2.6 M60,297.69 v-2.6 M64,300.62 v-2.6 M69,303.45 v-2.6 M72,304.78 v-2.6 M76,306.23 v-2.6 M79,307.32 v-2.6 M84,309.07 v-2.6 M87,309.97 v-2.6 M90,310.86 v-2.6 M93,311.76 v-2.6 M97,312.75 v-2.6 M100,313.37 v-2.6 M104,314.2 v-2.6 M108,314.65 v-2.6 M111,314.99 v-2.6 M115,315.44 v-2.6 M118,315.77 v-2.6 M121,316.08 v-2.6 M125,316.4 v-2.6 M129,316.72 v-2.6 M131,316.88 v-2.6 M134,317.12 v-2.6 M138,317.44 v-2.6 M141,317.66 v-2.6 M146,317.96 v-2.6 M149,318.14 v-2.6 M152,318.21 v-2.6 M156,318.24 v-2.6 M160,318.26 v-2.6 M163,318.28 v-2.6 M168,318.32 v-2.6 M172,318.34 v-2.6 M176,318.37 v-2.6 M180.5,318.4 v-2.6 " stroke="#18136e" stroke-width="1.3"/>
<path d="M211.6,236.9 h5.5" stroke="#18136e" stroke-width="1"/>
<path d="M212.4,237.2 l1.95,-2.9 l1.95,2.9z" fill="#18136e"/>
<text x="220" y="239.2" font-size="9.5" fill="#18136e">WT</text>
<path d="M211.6,249.65 h5.5" stroke="#7e1840" stroke-width="1"/>
<path d="M212.4,249.95 l1.95,-2.9 l1.95,2.9z" fill="#7e1840"/>
<text x="220" y="251.95" font-size="9.5" fill="#7e1840">Mutant</text>
<text x="384.6" y="218.2" font-size="10.9" font-weight="bold" fill="#18136e" text-anchor="middle">IDH2 Overall Survival</text>
<path d="M298.6,230.3 V340.8 H471.1" fill="none" stroke="#18136e" stroke-width="1.6"/>
<path d="M296.6,340.8 H298.6" stroke="#18136e" stroke-width="1.1"/>
<text x="296.1" y="343.6" font-size="8" font-weight="bold" fill="#18136e" text-anchor="end">0</text>
<path d="M296.6,303.97 H298.6" stroke="#18136e" stroke-width="1.1"/>
<text x="296.1" y="306.77" font-size="8" font-weight="bold" fill="#18136e" text-anchor="end">50</text>
<path d="M296.6,267.13 H298.6" stroke="#18136e" stroke-width="1.1"/>
<text x="296.1" y="269.93" font-size="8" font-weight="bold" fill="#18136e" text-anchor="end">100</text>
<path d="M296.6,230.3 H298.6" stroke="#18136e" stroke-width="1.1"/>
<text x="296.1" y="233.1" font-size="8" font-weight="bold" fill="#18136e" text-anchor="end">150</text>
<path d="M298.6,340.8 V342.8" stroke="#18136e" stroke-width="1.1"/>
<text x="298.6" y="350.3" font-size="8" font-weight="bold" fill="#18136e" text-anchor="middle">0</text>
<path d="M333.1,340.8 V342.8" stroke="#18136e" stroke-width="1.1"/>
<text x="333.1" y="350.3" font-size="8" font-weight="bold" fill="#18136e" text-anchor="middle">500</text>
<path d="M367.6,340.8 V342.8" stroke="#18136e" stroke-width="1.1"/>
<text x="367.6" y="350.3" font-size="8" font-weight="bold" fill="#18136e" text-anchor="middle">1000</text>
<path d="M402.1,340.8 V342.8" stroke="#18136e" stroke-width="1.1"/>
<text x="402.1" y="350.3" font-size="8" font-weight="bold" fill="#18136e" text-anchor="middle">1500</text>
<path d="M436.6,340.8 V342.8" stroke="#18136e" stroke-width="1.1"/>
<text x="436.6" y="350.3" font-size="8" font-weight="bold" fill="#18136e" text-anchor="middle">2000</text>
<path d="M471.1,340.8 V342.8" stroke="#18136e" stroke-width="1.1"/>
<text x="471.1" y="350.3" font-size="8" font-weight="bold" fill="#18136e" text-anchor="middle">2500</text>
<text x="384.85" y="359.8" font-size="9.3" font-weight="bold" fill="#18136e" text-anchor="middle">OS (Days)</text>
<text transform="translate(276.2,283) rotate(-90)" font-size="9.4" font-weight="bold" fill="#18136e" text-anchor="middle">Percent survival</text>
<path d="M298.6,267.3 L300.3,267.3 L300.3,275.2 L318.8,275.2 L318.8,283.4 L335.6,283.4 L335.6,292.5 L378.5,292.5 L378.5,304.6 L392.5,304.6 L392.5,322.8 L398.2,322.8 L398.2,318.8" fill="none" stroke="#4a4a4a" stroke-width="1.5" stroke-linejoin="round"/>
<path d="M298.6,267.3 L300.8,267.3 L300.8,269.4 L313.8,269.4 L313.8,273.6 L318.5,273.6 L318.5,282.6 L336,282.6 L336,287.5 L426.7,287.5" fill="none" stroke="#7e1840" stroke-width="1.5" stroke-linejoin="round"/>
<path d="M339.5,287.5 v-2.15 M343,287.5 v-2.15 M347,287.5 v-2.15 M351,287.5 v-2.15 M354.3,287.5 v-2.15 M357.5,287.5 v-2.15 M363.8,287.5 v-2.15 M369,287.5 v-2.15 M372.3,287.5 v-2.15 M384,287.5 v-2.15 M387,287.5 v-2.15 M390.3,287.5 v-2.15 M403,287.5 v-2.15 M410.4,287.5 v-2.15 M421,287.5 v-2.15 M425.6,287.5 v-2.15 " stroke="#7e1840" stroke-width="1.3"/>
<path d="M298.6,267.3 L301.5,271.8 L307,276.4 L311,280 L315.2,284.8 L319.3,290.1 L323.4,294.9 L328.9,299.2 L334.4,303.5 L339.8,306.8 L345.3,309.6 L351.6,312.3 L355,313.5 L364,315.6 L380,317.6 L395,318.9 L412,320 L450,320.5" fill="none" stroke="#18136e" stroke-width="2.4" stroke-linejoin="round"/>
<path d="M330,300.06 v-2.6 M334,303.19 v-2.6 M338,305.7 v-2.6 M343,308.43 v-2.6 M347,310.33 v-2.6 M351,312.04 v-2.6 M356,313.73 v-2.6 M359,314.43 v-2.6 M363,315.37 v-2.6 M367,315.98 v-2.6 M372,316.6 v-2.6 M376,317.1 v-2.6 M380,317.6 v-2.6 M384,317.95 v-2.6 M388,318.29 v-2.6 M392,318.64 v-2.6 M395,318.9 v-2.6 M400,319.22 v-2.6 M404,319.48 v-2.6 M407,319.68 v-2.6 M410,319.87 v-2.6 M414,320.03 v-2.6 M418,320.08 v-2.6 M421,320.12 v-2.6 M425,320.17 v-2.6 M430,320.24 v-2.6 M435,320.3 v-2.6 M441,320.38 v-2.6 M448.5,320.48 v-2.6 " stroke="#18136e" stroke-width="1.3"/>
<path d="M480.6,236.9 h5.5" stroke="#18136e" stroke-width="1"/>
<path d="M481.4,237.2 l1.95,-2.9 l1.95,2.9z" fill="#18136e"/>
<text x="489" y="239.2" font-size="9.5" fill="#18136e">WT</text>
<path d="M480.6,249.65 h5.5" stroke="#7e1840" stroke-width="1"/>
<path d="M481.4,249.95 l1.95,-2.9 l1.95,2.9z" fill="#7e1840"/>
<text x="489" y="251.95" font-size="9.5" fill="#7e1840">R140Q</text>
<path d="M480.6,262.4 h5.5" stroke="#4a4a4a" stroke-width="1"/>
<path d="M481.4,262.7 l1.95,-2.9 l1.95,2.9z" fill="#4a4a4a"/>
<text x="489" y="264.7" font-size="9.5" fill="#4a4a4a">R172K</text>
</svg>
</body></html>
